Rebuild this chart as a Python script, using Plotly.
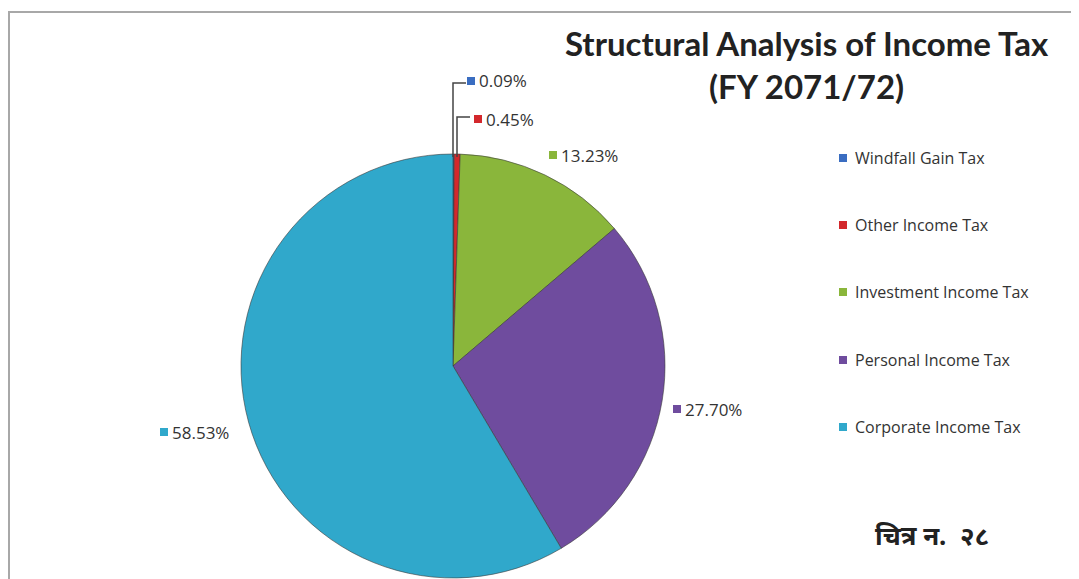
import plotly.graph_objects as go

categories = ["Windfall Gain Tax", "Other Income Tax", "Investment Income Tax",
              "Personal Income Tax", "Corporate Income Tax"]
shares = [0.09, 0.45, 13.23, 27.70, 58.53]
colors = ["#3a6dc1", "#d3282c", "#8ab63b", "#6f4c9e", "#30a8cb"]

W, H = 1079, 579
OFF = 8  # page body margin
def px(x): return (x - OFF) / W
def py(y): return 1 - (y - OFF) / H

cx, cy, r = 453, 366, 212

fig = go.Figure(go.Pie(
    labels=categories, values=shares, sort=False, direction="clockwise",
    rotation=0, marker=dict(colors=colors, line=dict(color="#3a3a3a", width=0.6)),
    textinfo="none", hoverinfo="label+percent", showlegend=False,
    domain=dict(x=[px(cx - r), px(cx + r)], y=[max(0, py(cy + r)), py(cy - r)]),
))

shapes = []
annotations = []

# Border
shapes.append(dict(type="rect", xref="paper", yref="paper",
                   x0=px(9), x1=px(1100), y0=py(620), y1=py(12),
                   line=dict(color="#a8a8a8", width=2), fillcolor="rgba(0,0,0,0)"))

# Title
annotations.append(dict(text="<b>Structural Analysis of Income Tax</b><br><b>(FY 2071/72)</b>",
                        x=px(807), y=py(64), xref="paper", yref="paper", showarrow=False,
                        font=dict(family="Lato", size=33, color="#222222"),
                        xanchor="center", yanchor="middle", align="center"))

# Leader lines for small slices
leaders = [(453, 157, 83, 466), (457, 157, 117, 470)]
for (xv, y0, y1, xh) in leaders:
    shapes.append(dict(type="path", xref="paper", yref="paper",
                       path=f"M {px(xv)} {py(y0)} L {px(xv)} {py(y1)} L {px(xh)} {py(y1)}",
                       line=dict(color="#444444", width=1.5)))

# Data labels (square at left, text after)
label_pos = [(471, 81), (478, 119), (553, 155), (677, 409), (164, 432)]
for (x, y), val, col in zip(label_pos, shares, colors):
    shapes.append(dict(type="rect", xref="paper", yref="paper",
                       x0=px(x - 4), x1=px(x + 4), y0=py(y + 4), y1=py(y - 4),
                       fillcolor=col, line=dict(width=0)))
    annotations.append(dict(text=f"{val:.2f}%", x=px(x + 6), y=py(y), xref="paper", yref="paper",
                            showarrow=False, xanchor="left", yanchor="middle",
                            font=dict(family="Open Sans", size=17, color="#333333")))

# Legend
leg_y = [158, 225, 292, 360, 427]
for name, col, y in zip(categories, colors, leg_y):
    shapes.append(dict(type="rect", xref="paper", yref="paper",
                       x0=px(839), x1=px(847), y0=py(y + 4), y1=py(y - 4),
                       fillcolor=col, line=dict(width=0)))
    annotations.append(dict(text=name, x=px(853), y=py(y), xref="paper", yref="paper",
                            showarrow=False, xanchor="left", yanchor="middle",
                            font=dict(family="Open Sans", size=16, color="#333333")))

# Figure caption
annotations.append(dict(text="<b>चित्र न.  २८</b>", x=px(932), y=py(535), xref="paper", yref="paper",
                        showarrow=False, xanchor="center", yanchor="middle",
                        font=dict(family="Noto Sans, Noto Sans Devanagari, Lohit Devanagari, sans-serif",
                                  size=26, color="#222222")))

fig.update_layout(width=W, height=H, margin=dict(l=0, r=0, t=0, b=0),
                  paper_bgcolor="white", plot_bgcolor="white",
                  shapes=shapes, annotations=annotations, showlegend=False)

fig.write_html("out.html")
